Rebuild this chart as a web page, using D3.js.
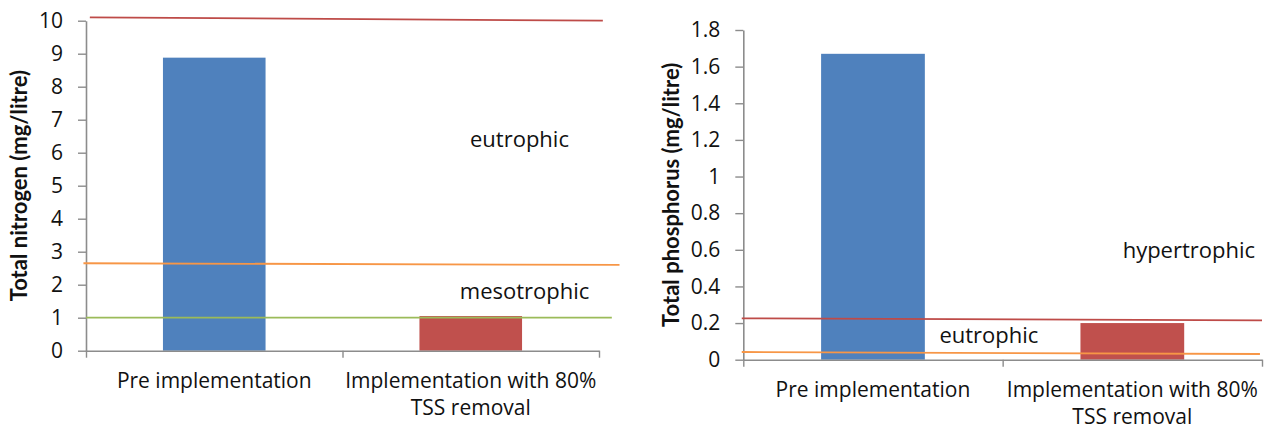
<!DOCTYPE html>
<html>
<head>
<meta charset="utf-8">
<script src="https://cdn.jsdelivr.net/npm/d3@7"></script>
<style>
  html, body { margin: 0; padding: 0; background: #ffffff; }
  svg { display: block; font-family: "Open Sans", "Noto Sans", sans-serif; }
</style>
</head>
<body>
<svg id="chart" width="1269" height="430"></svg>
<script>
// ---- Data -------------------------------------------------------------
const categories = ["Pre implementation", "Implementation with 80% TSS removal"];
const categoryLines = [["Pre implementation"], ["Implementation with 80%", "TSS removal"]];

// Total nitrogen (mg/litre)
const nitrogenValues = [8.88, 1.05];
const nitrogenTicks = [0, 1, 2, 3, 4, 5, 6, 7, 8, 9, 10];
// trophic boundary lines: value at left end, value at right end
const nitrogenBoundaries = [
  { name: "hypertrophic", from: 10.1, to: 10.0, color: "#be4b48" },
  { name: "eutrophic",    from: 2.65, to: 2.60, color: "#f79646" },
  { name: "mesotrophic",  from: 1.0,  to: 1.0,  color: "#9bbb59" }
];
const nitrogenZones = [
  { text: "eutrophic",   value: 6.16 },
  { text: "mesotrophic", value: 1.57 }
];

// Total phosphorus (mg/litre)
const phosphorusValues = [1.67, 0.20];
const phosphorusTicks = [0, 0.2, 0.4, 0.6, 0.8, 1, 1.2, 1.4, 1.6, 1.8];
const phosphorusBoundaries = [
  { name: "hypertrophic", from: 0.226, to: 0.215, color: "#be4b48" },
  { name: "eutrophic",    from: 0.042, to: 0.031, color: "#f79646" }
];
const phosphorusZones = [
  { text: "hypertrophic", value: 0.555 },
  { text: "eutrophic",    value: 0.093 }
];

const barColors = ["#4f81bd", "#c0504d"];

// ---- Drawing ------------------------------------------------------------
const svg = d3.select("#chart");
const axisColor = "#8c8c8c";
const textColor = "#111111";

function drawPanel(cfg) {
  const g = svg.append("g");

  const y = d3.scaleLinear().domain([0, cfg.max]).range([cfg.bottom, cfg.top]);
  const band = d3.scaleBand().domain(categories).range([cfg.left, cfg.right]).padding(0);
  const xCont = d3.scaleLinear().domain([0, categories.length]).range([cfg.left, cfg.right]);

  // bars
  const barW = band.bandwidth() * 0.4;
  g.selectAll("rect.bar")
    .data(cfg.values)
    .join("rect")
    .attr("class", "bar")
    .attr("x", (d, i) => band(categories[i]) + band.bandwidth() / 2 - barW / 2)
    .attr("width", barW)
    .attr("y", d => y(d))
    .attr("height", d => y(0) - y(d))
    .attr("fill", (d, i) => barColors[i]);

  // y axis
  const yAxis = d3.axisLeft(y)
    .tickValues(cfg.ticks)
    .tickFormat(d3.format("~g"))
    .tickSize(8)
    .tickSizeOuter(0)
    .tickPadding(15);
  const ya = g.append("g").attr("transform", `translate(${cfg.left},0)`).call(yAxis);
  ya.select(".domain").attr("stroke", axisColor).attr("stroke-width", 1.6);
  ya.selectAll(".tick line").attr("stroke", axisColor).attr("stroke-width", 1.4);
  ya.selectAll(".tick text")
    .attr("fill", textColor)
    .style("font-size", "21px")
    .style("font-family", "'Open Sans', sans-serif");

  // x axis with ticks on category boundaries
  const xAxis = d3.axisBottom(xCont)
    .tickValues(d3.range(categories.length + 1))
    .tickFormat("")
    .tickSize(7)
    .tickSizeOuter(0);
  const xa = g.append("g").attr("transform", `translate(0,${y(0)})`).call(xAxis);
  xa.select(".domain").attr("stroke", axisColor).attr("stroke-width", 1.6);
  xa.selectAll(".tick line").attr("stroke", axisColor).attr("stroke-width", 1.4);

  // category labels
  const labels = g.append("g").selectAll("text")
    .data(categories)
    .join("text")
    .attr("x", d => band(d) + band.bandwidth() / 2)
    .attr("y", y(0) + 37)
    .attr("text-anchor", "middle")
    .attr("fill", textColor)
    .style("font-size", "21px");
  labels.selectAll("tspan")
    .data((d, i) => categoryLines[i])
    .join("tspan")
    .attr("x", function () { return this.parentNode.getAttribute("x"); })
    .attr("dy", (d, i) => i === 0 ? 0 : 27)
    .text(d => d);

  // trophic boundary lines
  g.selectAll("line.boundary")
    .data(cfg.boundaries)
    .join("line")
    .attr("class", "boundary")
    .attr("x1", (d, i) => xCont(cfg.lineExtent[i][0]))
    .attr("x2", (d, i) => xCont(cfg.lineExtent[i][1]))
    .attr("y1", d => y(d.from))
    .attr("y2", d => y(d.to))
    .attr("stroke", d => d.color)
    .attr("stroke-width", 1.8);

  // zone labels
  g.selectAll("text.zone")
    .data(cfg.zones)
    .join("text")
    .attr("class", "zone")
    .attr("x", (d, i) => xCont(cfg.zoneX[i]))
    .attr("y", d => y(d.value))
    .attr("text-anchor", "middle")
    .attr("fill", textColor)
    .style("font-size", "22px")
    .text(d => d.text);

  // y axis title
  g.append("text")
    .attr("transform", `translate(${cfg.titleX},${(cfg.top + cfg.bottom) / 2}) rotate(-90)`)
    .attr("text-anchor", "middle")
    .attr("dy", "0.36em")
    .attr("fill", textColor)
    .style("font-family", "Lato, 'Open Sans', sans-serif")
    .style("font-size", "22px")
    .style("font-weight", "bold")
    .text(cfg.title);
}

drawPanel({
  left: 86, right: 599, top: 20.7, bottom: 350.7,
  max: 10, ticks: nitrogenTicks, values: nitrogenValues,
  boundaries: nitrogenBoundaries,
  lineExtent: [[0.015, 2.015], [-0.01, 2.08], [0, 2.05]],
  zones: nitrogenZones, zoneX: [1.69, 1.71],
  title: "Total nitrogen (mg/litre)", titleX: 19
});

drawPanel({
  left: 743.3, right: 1262, top: 30, bottom: 359.7,
  max: 1.8, ticks: phosphorusTicks, values: phosphorusValues,
  boundaries: phosphorusBoundaries,
  lineExtent: [[-0.006, 2.0], [-0.006, 1.992]],
  zones: phosphorusZones, zoneX: [1.718, 0.947],
  title: "Total phosphorus (mg/litre)", titleX: 671
});
</script>
</body>
</html>
